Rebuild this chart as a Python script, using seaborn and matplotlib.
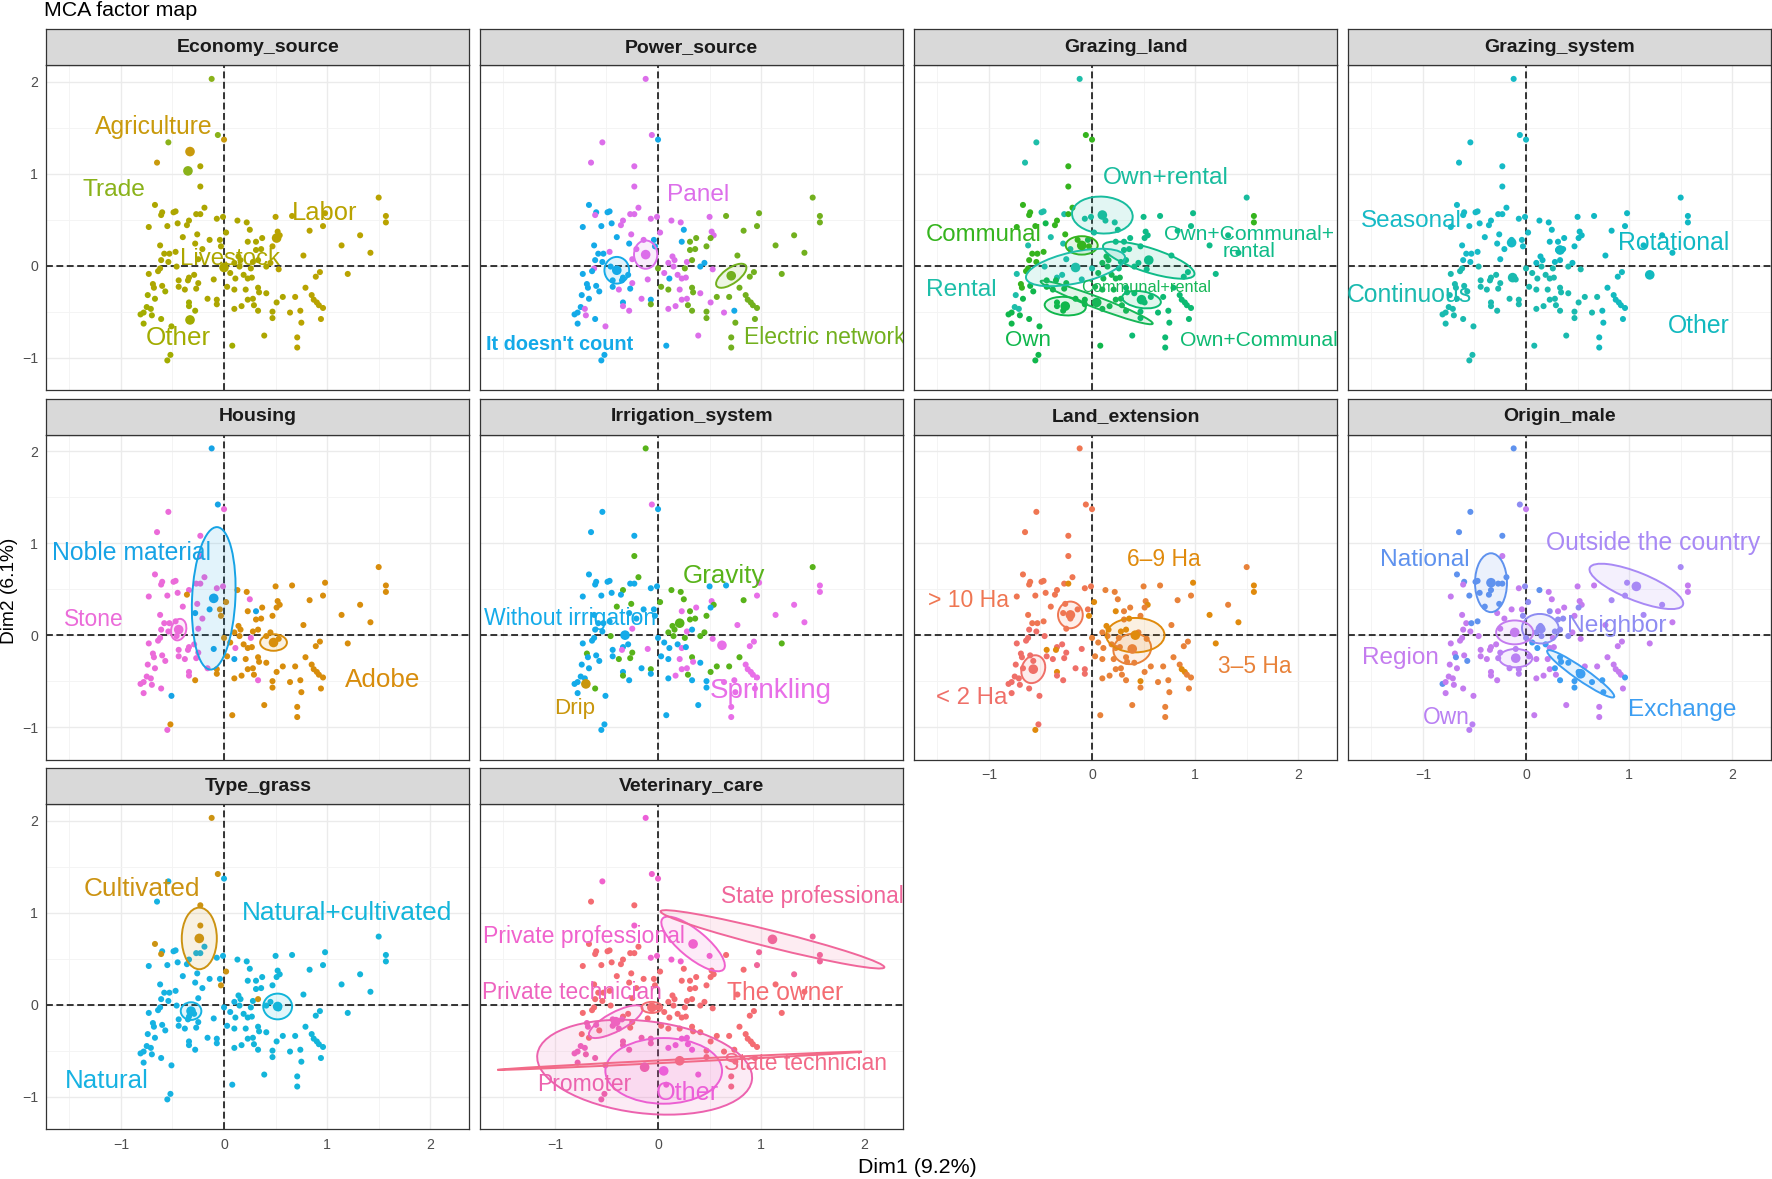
import numpy as np
import pandas as pd
import matplotlib
matplotlib.use("Agg")
import matplotlib.pyplot as plt
import seaborn as sns
from matplotlib.patches import Ellipse
from matplotlib.colors import to_rgba

sns.set_theme(style="white")
plt.rcParams["font.family"] = ["Liberation Sans", "DejaVu Sans"]

# ---------------- individuals (MCA coordinates) ----------------
ind_x = [
    -0.12, -0.06, 0.00, -0.54, -0.65, -0.23, -0.23, 1.50, -0.67, 1.57,
    1.57, -0.60, -0.61, -0.49, -0.47, -0.27, -0.23, -0.19, -0.73, -0.55,
    -0.45, -0.34, -0.36, -0.07, -0.01, 0.13, 0.22, 0.25, 0.50, 0.66,
    0.98, 0.96, 0.83, -0.26, -0.40, -0.28, -0.04, 0.02, -0.14, 0.23,
    0.31, 0.37, 0.52, 0.54, 0.51, 1.32, 1.14, -0.62, -0.21, -0.03,
    0.36, 0.31, 0.47, 0.77, 1.42, -0.58, -0.53, -0.47, -0.61, -0.54,
    -0.62, -0.64, -0.46, -0.25, 0.00, 0.10, 0.14, 0.16, 0.15, 0.28,
    0.33, 0.26, 0.41, 0.45, 0.53, 1.20, -0.73, 0.89, 0.93, 0.06,
    0.11, 0.19, 0.23, 0.27, -0.29, -0.34, -0.44, -0.25, -0.10, -0.35,
    -0.69, -0.68, -0.60, -0.57, -0.74, -0.67, -0.38, -0.44, -0.27, 0.03,
    0.10, 0.21, 0.33, 0.34, 0.41, 0.79, 0.57, 0.69, 0.85, 0.87,
    0.90, 0.92, 0.96, -0.16, -0.07, -0.07, -0.34, -0.34, -0.28, 0.10,
    0.17, 0.23, 0.28, 0.29, 0.33, 0.47, 0.47, 0.51, 0.64, 0.74,
    0.75, 0.94, -0.81, -0.78, -0.75, -0.71, -0.78, -0.70, -0.61, -0.51,
    0.39, 0.71, 0.71, 0.08, -0.52, -0.55]
ind_y = [
    2.03, 1.42, 1.37, 1.34, 1.12, 1.08, 0.86, 0.74, 0.66, 0.54,
    0.47, 0.58, 0.55, 0.58, 0.59, 0.56, 0.56, 0.63, 0.42, 0.43,
    0.46, 0.49, 0.44, 0.51, 0.53, 0.49, 0.47, 0.39, 0.53, 0.54,
    0.57, 0.43, 0.38, 0.34, 0.31, 0.24, 0.28, 0.36, 0.28, 0.26,
    0.26, 0.30, 0.37, 0.33, 0.30, 0.33, 0.22, 0.22, 0.18, 0.21,
    0.18, 0.17, 0.21, 0.11, 0.14, 0.13, 0.13, 0.15, 0.06, 0.04,
    -0.03, -0.06, -0.01, 0.07, -0.03, 0.03, 0.10, 0.06, -0.01, 0.04,
    0.06, -0.03, -0.01, 0.03, -0.04, -0.09, -0.09, -0.12, -0.07, -0.08,
    -0.14, -0.10, -0.14, -0.13, -0.10, -0.13, -0.16, -0.19, -0.15, -0.16,
    -0.20, -0.24, -0.22, -0.28, -0.32, -0.36, -0.26, -0.23, -0.25, -0.23,
    -0.26, -0.26, -0.24, -0.29, -0.30, -0.24, -0.34, -0.34, -0.32, -0.37,
    -0.40, -0.43, -0.46, -0.36, -0.37, -0.42, -0.40, -0.44, -0.49, -0.47,
    -0.44, -0.37, -0.36, -0.43, -0.49, -0.50, -0.57, -0.40, -0.51, -0.49,
    -0.62, -0.58, -0.53, -0.51, -0.45, -0.47, -0.63, -0.54, -0.58, -0.66,
    -0.76, -0.78, -0.89, -0.87, -0.97, -1.03]

# ---------------- Economy_source ----------------
economy_levels = ["Agriculture", "Labor", "Livestock", "Other", "Trade"]
economy_keys = "ABLOT"
economy_colors = ["#C99A0C", "#B9A300", "#ADA600", "#A2AC00", "#8AB21A"]
economy_codes = ("TTATALLBLB BLLLLLLLLL LLLLLLLLBB BBBLLLLLLL LLBBBBBLLL "
                 "LLBBBLLLLL LLLLLLLLLL LLLBBBLBBL LLLLLLLLLL LLLOOOLLLL "
                 "LLLLLBLBBB BBBLLLOOOL LLLLLLLLBB BBOOOOOOOO LBBOOO")
economy_cx = [-0.33, 0.51, 0.00, -0.33, -0.35]
economy_cy = [1.24, 0.30, -0.02, -0.59, 1.03]
economy_ea = [0, 0, 0, 0, 0]
economy_eb = [0, 0, 0, 0, 0]
economy_eang = [0, 0, 0, 0, 0]
economy_lx = [-0.68, 0.98, 0.06, -0.44, -1.07]
economy_ly = [1.51, 0.57, 0.07, -0.79, 0.82]
economy_lpx = [24.7, 25.5, 24.0, 26.0, 24.5]

# ---------------- Power_source ----------------
power_levels = ["Electric network", "It doesn't count", "Panel"]
power_keys = "EIP"
power_colors = ["#72B01E", "#14AAE8", "#DC6EEA"]
power_codes = ("PPIPPPPEIE EIPIIPPPII IPPPPPPIPE EEEPIIIPPI EEPPEEEIPI "
               "EEEEEIIPII PIIPEPPPPP EEIIPEIEEP IPPPIIIPPI IIIIIIPIIE "
               "EPEEPEEEEE EEEPIEIPPP PPPEEEEPPI EEIIIPIPIP PEEIII")
power_cx = [0.71, -0.40, -0.12]
power_cy = [-0.11, -0.05, 0.12]
power_ea = [0.18, 0.12, 0.113]
power_eb = [0.08, 0.145, 0.154]
power_eang = [40, 0, 0]
power_lx = [1.62, -0.95, 0.39]
power_ly = [-0.78, -0.86, 0.77]
power_lpx = [22.9, 19.9, 24.4]

# ---------------- Grazing_land ----------------
gland_levels = ["Communal", "Communal+rental", "Own", "Own+Communal",
                "Own+Communal+rental", "Own+rental", "Rental"]
gland_keys = "CQWXYZR"
gland_colors = ["#35B41E", "#17B757", "#10B74C", "#0DBA72", "#0FBB88", "#18BC9E", "#1EBEA9"]
gland_codes = ("RCCRRCCZCC CCCRRRCCCC WCCZZZZYYY YYYCRRQZCY YYYYYYYRRC "
               "YYYYYCCCCC CCRRRQQQQY YYYYYYRYYQ QQQQRRWWRW CCWWRWWWWQ "
               "QQXXXXXXXX XXXWWWWWWQ QQQQQXXXXX XXWWRRWWWW XXXWWW")
gland_cx = [-0.10, 0.045, -0.26, 0.48, 0.55, 0.10, -0.16]
gland_cy = [0.22, -0.40, -0.44, -0.37, 0.06, 0.55, -0.02]
gland_ea = [0.155, 0.59, 0.20, 0.19, 0.47, 0.295, 0.494]
gland_eb = [0.10, 0.06, 0.10, 0.09, 0.13, 0.20, 0.17]
gland_eang = [0, -23, -5, -10, -20, -5, 14]
gland_lx = [-1.05, 0.52, -0.62, 1.62, 1.52, 0.72, -1.27]
gland_ly = [0.33, -0.24, -0.81, -0.81, 0.245, 0.95, -0.26]
gland_lpx = [24.0, 16.4, 22.4, 21.1, 21.2, 24.5, 24.5]
gland_labels = ["Communal", "Communal+rental", "Own", "Own+Communal",
                "Own+Communal+\nrental", "Own+rental", "Rental"]

# ---------------- Grazing_system ----------------
gsys_levels = ["Continuous", "Other", "Rotational", "Seasonal"]
gsys_keys = "CORS"
gsys_colors = ["#1ABAAF", "#12B9BF", "#10B8C3", "#16BAC6"]
gsys_codes = ("SSSSSSSRSR RSSSSSSSSS SSSSSRRRRR RRRSSSSSSR RRRRRRRSSS "
              "RRRRRSSSSS CCCSCRRRCR RCCRCOCOOC CCCCCCCCCC CCCCCCCCCC "
              "CCCCCOCCOO OOOCCCCCCC CCCCCCCCCO OOCCCCCCCC COOCCC")
gsys_cx = [-0.13, 1.20, 0.33, -0.14]
gsys_cy = [-0.13, -0.10, 0.17, 0.25]
gsys_ea = [0, 0, 0, 0]
gsys_eb = [0, 0, 0, 0]
gsys_eang = [0, 0, 0, 0]
gsys_lx = [-1.13, 1.68, 1.43, -1.11]
gsys_ly = [-0.32, -0.66, 0.25, 0.48]
gsys_lpx = [24.7, 24.7, 24.7, 24.2]

# ---------------- Housing ----------------
housing_levels = ["Adobe", "Noble material", "Stone"]
housing_keys = "ANS"
housing_colors = ["#D88D0C", "#16A3E5", "#EB6BD9"]
housing_codes = ("NNSSSSSASA ASSSSSSSSS SSASSAASAA AAASSNAANA NAAAAAASSA "
                 "AAAAASSSSS SSSSAAAAAA ASAAAASAAA SAAASSSSNS SSSSSSSSSA "
                 "NAAAAAAAAA AAASAASSAA AAAASAAAAA AASSSSSSSN AAAAAS")
housing_cx = [0.48, -0.10, -0.44]
housing_cy = [-0.08, 0.40, 0.06]
housing_ea = [0.13, 0.21, 0.073]
housing_eb = [0.09, 0.775, 0.118]
housing_eang = [0, -2.4, -10]
housing_lx = [1.54, -0.90, -1.26]
housing_ly = [-0.49, 0.89, 0.17]
housing_lpx = [26.0, 24.7, 22.7]

# ---------------- Irrigation_system ----------------
irrig_levels = ["Drip", "Gravity", "Sprinkling", "Without irrigation"]
irrig_keys = "DGSW"
irrig_colors = ["#C9960C", "#58B31A", "#E86FE8", "#14ABE9"]
irrig_codes = ("GSWWWWGGWS SWWWWWWGWW WGWWWGGGWW SSGGGWWGWS GSSGWSSWWW "
               "GGGSSWWWWW WWGSWGGGGS WGGGSGWSSW WWSWWWWGSS GWWWWWGWGW "
               "WSGSWGGGSS SSSWGWWGWW SSSGWWWGSS SSWWWWWDGW WSSWWW")
irrig_cx = [-0.70, 0.21, 0.62, -0.32]
irrig_cy = [-0.53, 0.13, -0.11, 0.00]
irrig_ea = [0, 0, 0, 0]
irrig_eb = [0, 0, 0, 0]
irrig_eang = [0, 0, 0, 0]
irrig_lx = [-0.81, 0.64, 1.09, -0.85]
irrig_ly = [-0.80, 0.64, -0.61, 0.18]
irrig_lpx = [22.4, 26.0, 27.8, 23.0]

# ---------------- Land_extension ----------------
land_levels = ["3\u20135 Ha", "6\u20139 Ha", "< 2 Ha", "> 10 Ha"]
land_keys = "TNLM"
land_colors = ["#E8823A", "#E08A0C", "#EF6F68", "#EF7652"]
land_codes = ("MMMMMMMTMN NMMMMMNMMM MMMMMTTTTT NTTMMMMNMN TTTNTTNMMN "
              "NTTTNMMMLL LLLMTTNNTN NTNTTNLTTT TTTTLLNLLN LLLLLLLLLT "
              "TTTTTTTTTN NTTLLLNLLT TTTTTNTTTT TTLLLLLLLL TTTTLN")
land_cx = [0.39, 0.42, -0.57, -0.21]
land_cy = [-0.15, 0.00, -0.37, 0.22]
land_ea = [0.186, 0.283, 0.113, 0.12]
land_eb = [0.163, 0.187, 0.154, 0.145]
land_eang = [20, 0, -15, 0]
land_lx = [1.58, 0.70, -1.17, -1.20]
land_ly = [-0.34, 0.82, -0.68, 0.38]
land_lpx = [22.7, 22.7, 24.0, 23.0]

# ---------------- Origin_male ----------------
origin_levels = ["Exchange", "National", "Neighbor", "Outside the country", "Own", "Region"]
origin_keys = "XNBOWR"
origin_colors = ["#3C9EF2", "#5F92EE", "#8E8CF2", "#A889F5", "#B980F3", "#C47CEF"]
origin_codes = ("NBRNNNRONR RNRNNNNNRN NNNRBNRRRR OOONNRRBRB RRRRBOORRB "
                "BBRRRRNNRR RRRRBBBBBB BRBRRRRRRX XXRRRRRWWR RNRNRRRRWW "
                "RRXXXRRRRR RRXWWWRRRR RRXRXXXXXX XRNRRRRRRR RRRRWW")
origin_cx = [0.53, -0.34, 0.14, 1.07, -0.10, -0.11]
origin_cy = [-0.42, 0.57, 0.07, 0.53, -0.25, 0.03]
origin_ea = [0.41, 0.155, 0.18, 0.495, 0.16, 0.18]
origin_eb = [0.065, 0.32, 0.16, 0.15, 0.10, 0.13]
origin_eang = [-38, 0, -10, -24.5, 0, 0]
origin_lx = [1.51, -0.98, 0.88, 1.23, -0.77, -1.22]
origin_ly = [-0.81, 0.82, 0.10, 1.00, -0.89, -0.25]
origin_lpx = [24.4, 24.5, 24.5, 24.7, 22.7, 24.2]

# ---------------- Type_grass ----------------
grass_levels = ["Cultivated", "Natural", "Natural+cultivated"]
grass_keys = "CNM"
grass_colors = ["#CC9312", "#16B2E2", "#13B5DA"]
grass_codes = ("CCNNNCCMCM MNCNNNNNNN NNNNNMMMMM MMMNNNNCNM MMMMMMMNNC "
               "MMMMMNNNNN NNNNNNMMMM CMMMMMNMMN MMMMNNNNNN NNNNNNNNNN "
               "MMMMMMMMMM MMMNNNNNNM MMMMMMMMMM MMNNNNNNNN MMMNNN")
grass_cx = [-0.24, -0.32, 0.52]
grass_cy = [0.72, -0.07, -0.02]
grass_ea = [0.17, 0.10, 0.14]
grass_eb = [0.335, 0.096, 0.14]
grass_eang = [0, 0, 0]
grass_lx = [-0.80, -1.14, 1.19]
grass_ly = [1.26, -0.83, 1.00]
grass_lpx = [26.2, 26.0, 26.2]

# ---------------- Veterinary_care ----------------
vet_levels = ["Other", "Private professional", "Private technician", "Promoter",
              "State professional", "State technician", "The owner"]
vet_keys = "OPTRSEW"
vet_colors = ["#EC5FD8", "#F062CD", "#EE63BF", "#EC62AE", "#F0669A", "#F26A88", "#F46C72"]
vet_codes = ("OPPPWWPSWS SWWWWWWWWW WWWPPPPWPW SSWWWWWWWW WWWWWSWWWW "
             "WWWWWWWWWW WWWWWWWWWW WWWWWWWWWW WWWWWWTWWT TTTWWWTTWW "
             "WWWWWWWWWW WWWRRRRRRO OOOOOWWWWW WWTTTTRRRR OEEORR")
vet_cx = [0.055, 0.34, -0.41, -0.13, 1.11, 0.21, -0.06]
vet_cy = [-0.72, 0.66, -0.185, -0.68, 0.71, -0.61, -0.03]
vet_ea = [0.566, 0.405, 0.30, 1.05, 1.127, 1.77, 0.10]
vet_eb = [0.357, 0.14, 0.10, 0.50, 0.09, 0.015, 0.06]
vet_eang = [0, -43.7, 31.5, -7.9, -15.7, 3.2, 0]
vet_lx = [0.28, -0.72, -0.84, -0.72, 1.50, 1.43, 1.23]
vet_ly = [-0.96, 0.74, 0.13, -0.87, 1.18, -0.64, 0.13]
vet_lpx = [25.3, 23.0, 22.8, 22.9, 22.7, 22.9, 24.6]

panel_titles = ["Economy_source", "Power_source", "Grazing_land", "Grazing_system",
                "Housing", "Irrigation_system", "Land_extension", "Origin_male",
                "Type_grass", "Veterinary_care"]

# ---------------- assemble specs from the named arrays ----------------
specs = [
    (economy_levels, economy_keys, economy_colors, economy_codes, economy_cx, economy_cy,
     economy_ea, economy_eb, economy_eang, economy_lx, economy_ly, economy_lpx, economy_levels),
    (power_levels, power_keys, power_colors, power_codes, power_cx, power_cy,
     power_ea, power_eb, power_eang, power_lx, power_ly, power_lpx, power_levels),
    (gland_levels, gland_keys, gland_colors, gland_codes, gland_cx, gland_cy,
     gland_ea, gland_eb, gland_eang, gland_lx, gland_ly, gland_lpx, gland_labels),
    (gsys_levels, gsys_keys, gsys_colors, gsys_codes, gsys_cx, gsys_cy,
     gsys_ea, gsys_eb, gsys_eang, gsys_lx, gsys_ly, gsys_lpx, gsys_levels),
    (housing_levels, housing_keys, housing_colors, housing_codes, housing_cx, housing_cy,
     housing_ea, housing_eb, housing_eang, housing_lx, housing_ly, housing_lpx, housing_levels),
    (irrig_levels, irrig_keys, irrig_colors, irrig_codes, irrig_cx, irrig_cy,
     irrig_ea, irrig_eb, irrig_eang, irrig_lx, irrig_ly, irrig_lpx, irrig_levels),
    (land_levels, land_keys, land_colors, land_codes, land_cx, land_cy,
     land_ea, land_eb, land_eang, land_lx, land_ly, land_lpx, land_levels),
    (origin_levels, origin_keys, origin_colors, origin_codes, origin_cx, origin_cy,
     origin_ea, origin_eb, origin_eang, origin_lx, origin_ly, origin_lpx, origin_levels),
    (grass_levels, grass_keys, grass_colors, grass_codes, grass_cx, grass_cy,
     grass_ea, grass_eb, grass_eang, grass_lx, grass_ly, grass_lpx, grass_levels),
    (vet_levels, vet_keys, vet_colors, vet_codes, vet_cx, vet_cy,
     vet_ea, vet_eb, vet_eang, vet_lx, vet_ly, vet_lpx, vet_levels),
]

# ---------------- layout (pixel geometry of the facet grid) ----------------
W, H, DPI = 1772, 1179, 100
PT = 0.72  # points per pixel at 100 dpi
XLIM = (-1.725, 2.38)
YLIM = (-1.355, 2.18)
AX_W, AX_H = 423.2, 325.2
COL_LEFT = [46.2, 480.2, 914.2, 1348.2]
ROW_TOP = [65.1, 434.6, 804.1]
STRIP_H = 36.0

fig = plt.figure(figsize=(W / DPI, H / DPI), dpi=DPI, facecolor="white")

BORDER = "#333333"

for i, (title, spec) in enumerate(zip(panel_titles, specs)):
    (levels, keys, colors, codes, cx, cy, ea, eb, eang, lx, ly, lpx, labtxt) = spec
    r, c = divmod(i, 4)
    left, top = COL_LEFT[c], ROW_TOP[r]
    ax = fig.add_axes([left / W, 1 - (top + AX_H) / H, AX_W / W, AX_H / H])
    sax = fig.add_axes([left / W, 1 - top / H, AX_W / W, STRIP_H / H])

    show_x = (i >= 8) or (i in (6, 7))
    show_y = (c == 0)

    # panel background/grid
    ax.set_facecolor("white")
    ax.set_xlim(XLIM)
    ax.set_ylim(YLIM)
    ax.set_xticks([-1, 0, 1, 2])
    ax.set_yticks([-1, 0, 1, 2])
    ax.set_xticks([-1.5, -0.5, 0.5, 1.5], minor=True)
    ax.set_yticks([-0.5, 0.5, 1.5], minor=True)
    ax.grid(which="major", color="#EBEBEB", lw=1.0, zorder=0)
    ax.grid(which="minor", color="#F3F3F3", lw=0.6, zorder=0)
    ax.set_axisbelow(True)
    ax.tick_params(axis="both", which="minor", length=0)
    ax.tick_params(axis="x", which="major", length=3.5 if show_x else 0, width=0.8,
                   color=BORDER, labelcolor="#4D4D4D", labelsize=10.2, pad=2.5,
                   labelbottom=show_x)
    ax.tick_params(axis="y", which="major", length=3.5 if show_y else 0, width=0.8,
                   color=BORDER, labelcolor="#4D4D4D", labelsize=10.2, pad=2.2,
                   labelleft=show_y)
    for sp in ax.spines.values():
        sp.set_color(BORDER)
        sp.set_linewidth(0.9)

    ax.axhline(0, color="black", lw=1.1, ls=(0, (4.5, 2.3)), zorder=1.5)
    ax.axvline(0, color="black", lw=1.1, ls=(0, (4.5, 2.3)), zorder=1.5)

    code_str = codes.replace(" ", "")
    assert len(code_str) == len(ind_x), (title, len(code_str))
    cat = [levels[keys.index(k)] for k in code_str]
    df = pd.DataFrame({"Dim1": ind_x, "Dim2": ind_y, "cat": cat})
    pal = dict(zip(levels, colors))
    sns.scatterplot(data=df, x="Dim1", y="Dim2", hue="cat", palette=pal, s=19,
                    linewidth=0, legend=False, ax=ax, zorder=3)

    # confidence ellipses
    for j, lev in enumerate(levels):
        if ea[j] > 0:
            e = Ellipse((cx[j], cy[j]), 2 * ea[j], 2 * eb[j], angle=eang[j],
                        facecolor=to_rgba(colors[j], 0.12), edgecolor=colors[j],
                        lw=1.4, zorder=4)
            ax.add_patch(e)

    # category centroids
    cdf = pd.DataFrame({"Dim1": cx, "Dim2": cy, "cat": levels})
    sns.scatterplot(data=cdf, x="Dim1", y="Dim2", hue="cat", palette=pal, s=48,
                    linewidth=0, legend=False, ax=ax, zorder=5)

    # category labels
    for j, lev in enumerate(levels):
        ax.text(lx[j], ly[j], labtxt[j], color=colors[j], fontsize=lpx[j] * PT,
                ha="center", va="center", multialignment="center", linespacing=0.9,
                fontweight="bold" if lev == "It doesn't count" else "normal",
                clip_on=True, zorder=6)

    ax.set_xlabel("")
    ax.set_ylabel("")

    # facet strip
    sax.set_facecolor("#D9D9D9")
    sax.set_xticks([])
    sax.set_yticks([])
    for sp in sax.spines.values():
        sp.set_color(BORDER)
        sp.set_linewidth(0.9)
    sax.text(0.5, 0.5, title, ha="center", va="center", fontsize=14,
             fontweight="bold", color="#1A1A1A", transform=sax.transAxes)

fig.text(44.5 / W, 1 - 16 / H, "MCA factor map", fontsize=15.4, ha="left",
         va="baseline", color="black")
fig.text(917 / W, 1 - 1173 / H, "Dim1 (9.2%)", fontsize=15.4, ha="center",
         va="baseline", color="black")
fig.text(9.5 / W, 1 - 591 / H, "Dim2 (6.1%)", fontsize=13.8, ha="center",
         va="center", rotation=90, color="black")

fig.savefig("out.png", dpi=DPI, facecolor="white")
